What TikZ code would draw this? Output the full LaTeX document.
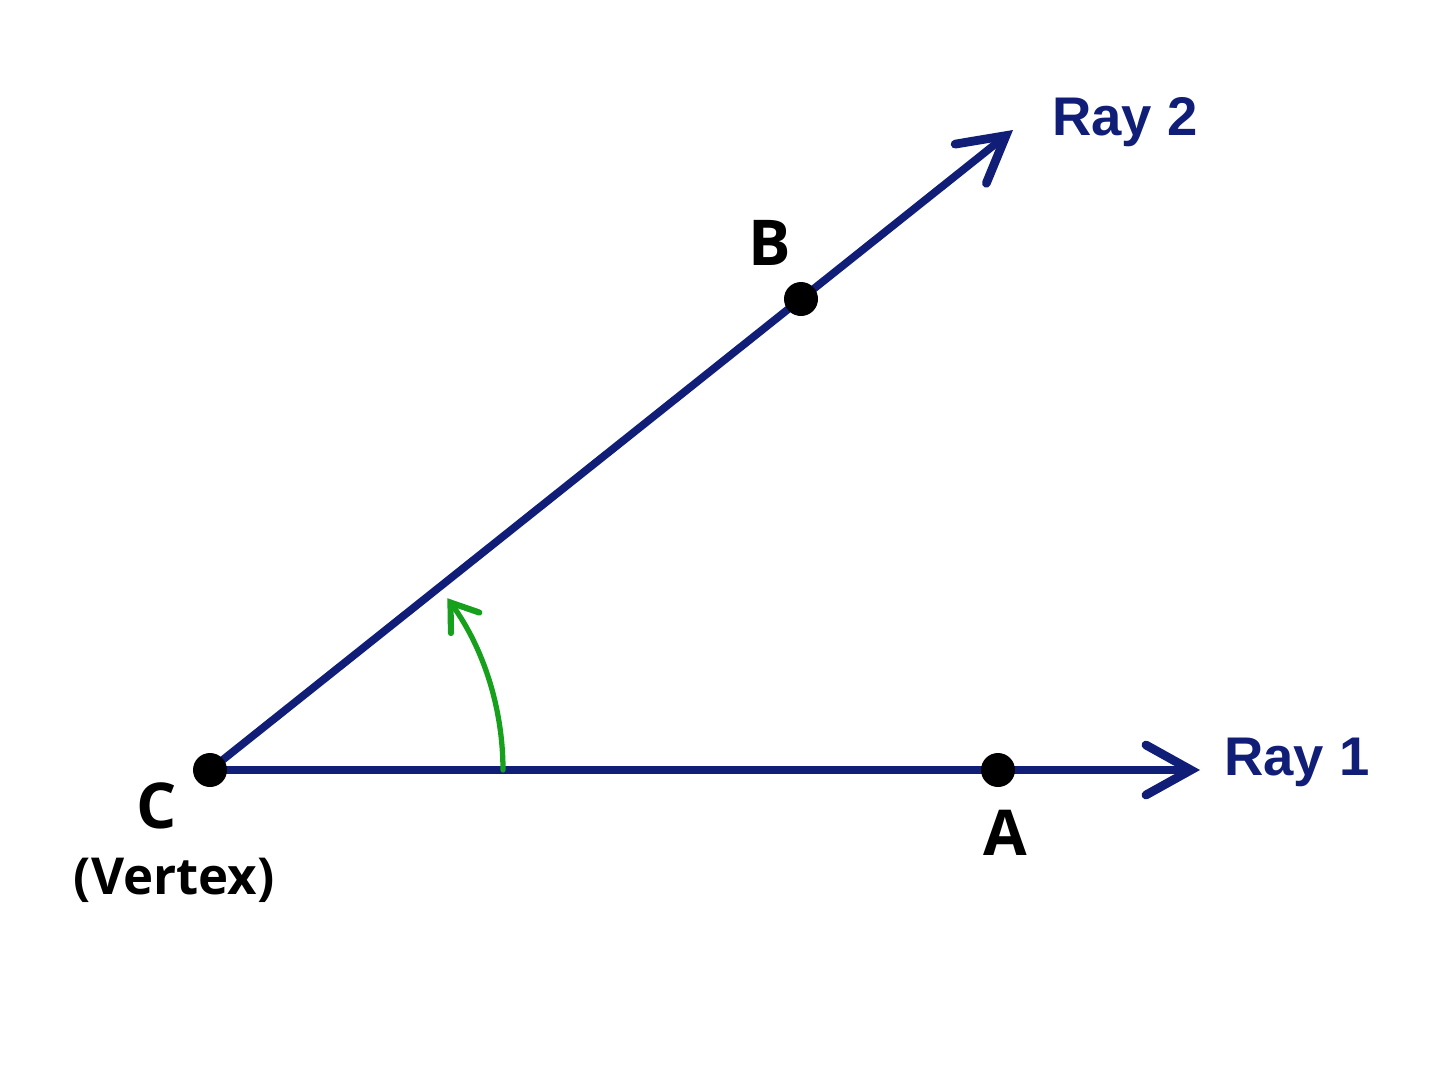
\documentclass[tikz,border=0pt]{standalone}
\usepackage{fontspec}
\setmainfont{Open Sans}
\newfontfamily\rayfont{Liberation Sans}
\usetikzlibrary{arrows.meta}
\definecolor{raynavy}{RGB}{16,30,120}
\definecolor{arcgreen}{RGB}{22,160,28}
\begin{document}
\begin{tikzpicture}[x=0.02cm,y=-0.02cm,
  ray/.style={draw=raynavy,line width=4.4pt,-{Straight Barb[length=0.9cm,width=1.0cm,line width=5pt,line cap=round]}},
  pt/.style={circle,fill=black,inner sep=0pt,minimum size=0.68cm},
  ptlabel/.style={font=\fontsize{36}{40}\selectfont\bfseries,text=black,inner sep=0pt},
  raylabel/.style={font=\rayfont\fontsize{31}{36}\selectfont\bfseries,text=raynavy,inner sep=0pt},
  anglearc/.style={draw=arcgreen,line width=3pt,line cap=round,-{Straight Barb[length=0.5cm,width=0.7cm,line width=3.5pt,line cap=round]}}]
\useasboundingbox (0,0) rectangle (1448,1086);
\fill[white] (0,0) rectangle (1448,1086);
\coordinate (Cc) at (210,770);
\coordinate (Ac) at (998,770);
\coordinate (Bc) at (801,299);
\coordinate (tip1) at (1200,770);
\coordinate (tip2) at (1013,130);
\draw[ray] (Cc) -- (tip1);
\draw[ray] (Cc) -- (tip2);
\draw[anglearc] (503,770) arc[start angle=0,end angle=-35.9,radius=293];
\node[pt] (C) at (Cc) {};
\node[pt] (A) at (Ac) {};
\node[pt] (B) at (Bc) {};
\node[ptlabel] (Cl) at (157,806) {C};
\node[ptlabel,font=\fontsize{29}{32}\selectfont\bfseries] (Vl) at (174,880) {(Vertex)};
\node[ptlabel] (Al) at (1005,833) {A};
\node[ptlabel] (Bl) at (770,243) {B};
\node[raylabel] (R1) at (1297,762) {Ray 1};
\node[raylabel] (R2) at (1125,122) {Ray 2};
\end{tikzpicture}
\end{document}
